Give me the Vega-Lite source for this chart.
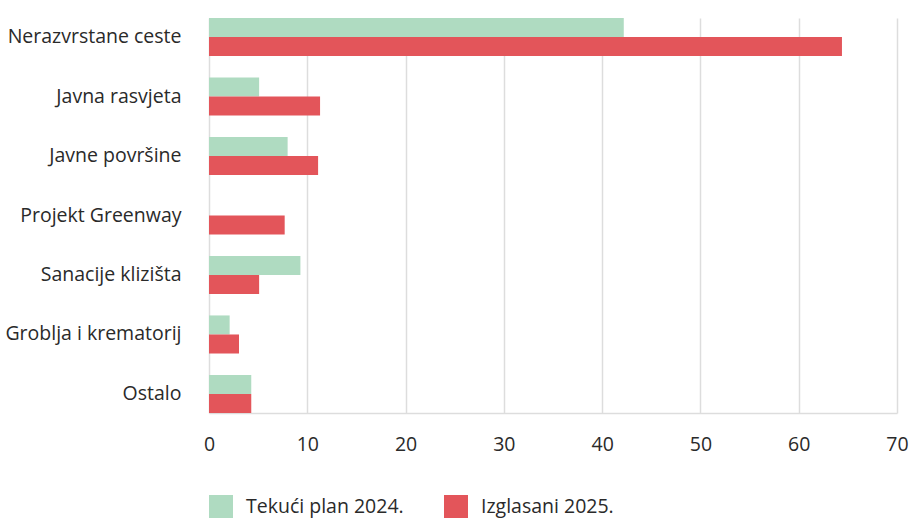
{
  "$schema": "https://vega.github.io/schema/vega-lite/v6.json",
  "width": 688,
  "height": 395,
  "autosize": {"type": "none"},
  "padding": {"left": 209, "top": 18, "right": 16, "bottom": 105},
  "background": "white",
  "data": {
    "values": [
      {"kategorija": "Nerazvrstane ceste", "serija": "Tekući plan 2024.", "iznos": 42.2},
      {"kategorija": "Nerazvrstane ceste", "serija": "Izglasani 2025.", "iznos": 64.4},
      {"kategorija": "Javna rasvjeta", "serija": "Tekući plan 2024.", "iznos": 5.1},
      {"kategorija": "Javna rasvjeta", "serija": "Izglasani 2025.", "iznos": 11.3},
      {"kategorija": "Javne površine", "serija": "Tekući plan 2024.", "iznos": 8.0},
      {"kategorija": "Javne površine", "serija": "Izglasani 2025.", "iznos": 11.1},
      {"kategorija": "Projekt Greenway", "serija": "Tekući plan 2024.", "iznos": 0},
      {"kategorija": "Projekt Greenway", "serija": "Izglasani 2025.", "iznos": 7.7},
      {"kategorija": "Sanacije klizišta", "serija": "Tekući plan 2024.", "iznos": 9.3},
      {"kategorija": "Sanacije klizišta", "serija": "Izglasani 2025.", "iznos": 5.1},
      {"kategorija": "Groblja i krematorij", "serija": "Tekući plan 2024.", "iznos": 2.1},
      {"kategorija": "Groblja i krematorij", "serija": "Izglasani 2025.", "iznos": 3.05},
      {"kategorija": "Ostalo", "serija": "Tekući plan 2024.", "iznos": 4.3},
      {"kategorija": "Ostalo", "serija": "Izglasani 2025.", "iznos": 4.3}
    ]
  },
  "config": {
    "view": {"stroke": null},
    "font": "Open Sans",
    "axis": {"labelFont": "Open Sans", "labelColor": "#2a2a2a"},
    "legend": {"labelFont": "Open Sans"}
  },
  "mark": {"type": "bar"},
  "encoding": {
    "y": {
      "field": "kategorija",
      "type": "nominal",
      "sort": ["Nerazvrstane ceste", "Javna rasvjeta", "Javne površine", "Projekt Greenway", "Sanacije klizišta", "Groblja i krematorij", "Ostalo"],
      "scale": {"paddingInner": 0.36, "paddingOuter": 0},
      "axis": {
        "title": null,
        "domain": false,
        "ticks": false,
        "labelFontSize": 19.5,
        "labelPadding": 28,
        "labelFontWeight": 400
      }
    },
    "yOffset": {
      "field": "serija",
      "type": "nominal",
      "sort": ["Tekući plan 2024.", "Izglasani 2025."],
      "scale": {"paddingInner": 0, "paddingOuter": 0}
    },
    "x": {
      "field": "iznos",
      "type": "quantitative",
      "scale": {"domain": [0, 70], "nice": false},
      "axis": {
        "title": null,
        "values": [0, 10, 20, 30, 40, 50, 60, 70],
        "grid": true,
        "gridColor": "#dddddd",
        "gridWidth": 1.5,
        "domainColor": "#dddddd",
        "domainWidth": 1.5,
        "ticks": false,
        "labelFlush": false,
        "labelFontSize": 19.5,
        "labelPadding": 22,
        "labelFontWeight": 400
      }
    },
    "color": {
      "field": "serija",
      "type": "nominal",
      "sort": ["Tekući plan 2024.", "Izglasani 2025."],
      "scale": {"domain": ["Tekući plan 2024.", "Izglasani 2025."], "range": ["#afdbc1", "#e3555a"]},
      "legend": {
        "title": null,
        "orient": "none",
        "legendX": 0,
        "legendY": 477,
        "direction": "horizontal",
        "symbolType": "square",
        "symbolSize": 576,
        "symbolStrokeWidth": 0,
        "symbolOpacity": 1,
        "labelFontSize": 19.5,
        "labelFontWeight": 400,
        "labelColor": "#2a2a2a",
        "labelOffset": 13,
        "columnPadding": 40
      }
    }
  }
}
